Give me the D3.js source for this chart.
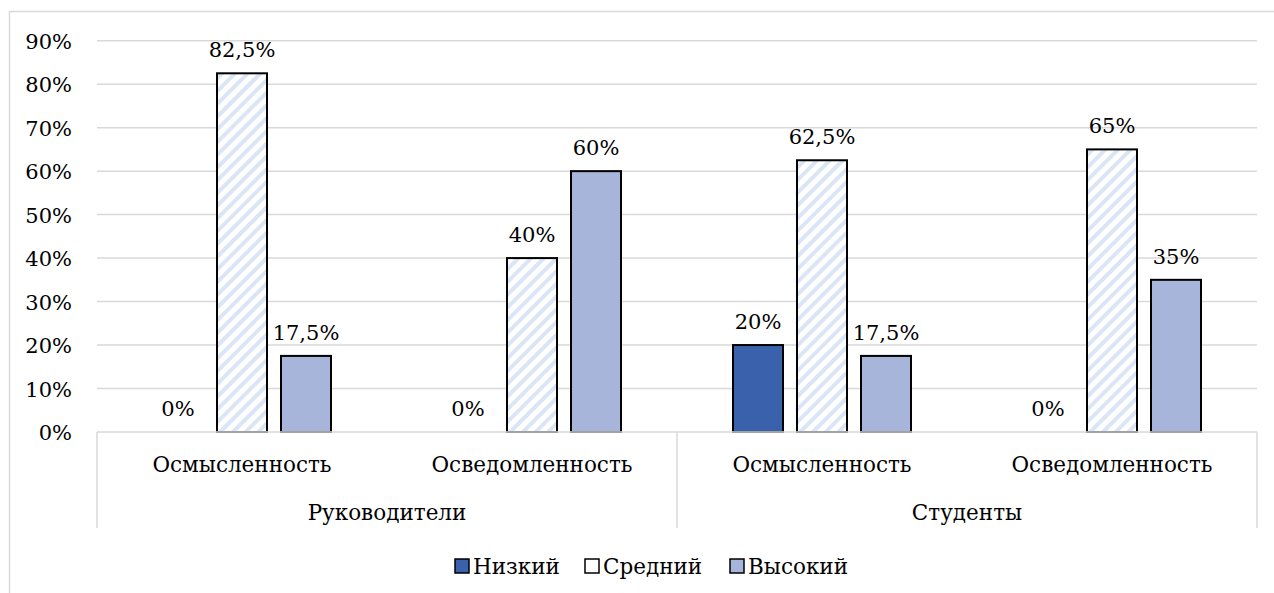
<!DOCTYPE html>
<html><head><meta charset="utf-8">
<script src="https://cdn.jsdelivr.net/npm/d3@7"></script>
</head><body style="margin:0;background:#fff">
<script>
const groups = ["Руководители", "Студенты"];
const subcats = ["Осмысленность", "Осведомленность"];
const series = ["Низкий", "Средний", "Высокий"];
const low = [0, 0, 20, 0];
const mid = [82.5, 40, 62.5, 65];
const high = [17.5, 60, 17.5, 35];
const labels = [["0%","82,5%","17,5%"],["0%","40%","60%"],["20%","62,5%","17,5%"],["0%","65%","35%"]];
const yTicks = [0,10,20,30,40,50,60,70,80,90];

const svg = d3.select("body").append("svg").attr("width",1274).attr("height",593)
  .style("display","block");
const FN = 21, FW = 21.5;
const FF = "DejaVu Serif";
const m = {l:97, r:1257, t:40.7, b:432};
const defs = svg.append("defs");
const pat = defs.append("pattern").attr("id","hatch").attr("patternUnits","userSpaceOnUse")
  .attr("width",9).attr("height",9).attr("patternTransform","rotate(45)");
pat.append("rect").attr("width",9).attr("height",9).attr("fill","#fff");
pat.append("rect").attr("x",0).attr("width",4).attr("height",9).attr("fill","#dae6f5");
const fills = ["#3a62ac","url(#hatch)","#a8b5da"];
const legendFills = ["#3a62ac","#fff","#a8b5da"];

svg.append("rect").attr("x",9.5).attr("y",11.5).attr("width",1280).attr("height",600)
  .attr("fill","none").attr("stroke","#d9d9d9").attr("stroke-width",1.5);

const keys = d3.range(4);
const x = d3.scaleBand().domain(keys).range([m.l,m.r]).padding(0);
const xs = d3.scalePoint().domain(d3.range(3)).range([-64,64]);
const BW = 50;
const y = d3.scaleLinear().domain([0,90]).range([m.b,m.t]);

svg.append("g").selectAll("line").data(yTicks.slice(1)).join("line")
  .attr("x1",m.l).attr("x2",m.r).attr("y1",d=>y(d)).attr("y2",d=>y(d))
  .attr("stroke","#d9d9d9").attr("stroke-width",1.5);

const txt = (fs)=>(sel)=>sel.attr("font-family",FF).attr("font-size",fs).attr("fill","#000");

const yAxis = d3.axisLeft(y).tickValues(yTicks).tickFormat(d=>d+"%").tickSize(0).tickPadding(0);
const ga = svg.append("g").attr("transform","translate(72,0)").call(yAxis);
ga.attr("font-family",FF).attr("font-size",FN);
ga.select(".domain").remove();
ga.selectAll("text").call(txt(FN)).attr("dy","0.36em");

const vals = [low, mid, high];
keys.forEach(k=>{
  const g = svg.append("g").attr("transform",`translate(${x(k)+x.bandwidth()/2},0)`);
  series.forEach((s,i)=>{
    const v = vals[i][k];
    if (v>0) {
      g.append("rect").attr("x",xs(i)-BW/2).attr("width",BW)
        .attr("y",y(v)).attr("height",y(0)-y(v))
        .attr("fill",fills[i]).attr("stroke","#000").attr("stroke-width",2);
    }
    g.append("text").attr("x",xs(i)).attr("y",y(v)-16)
      .attr("text-anchor","middle").call(txt(FN)).text(labels[k][i]);
  });
});

svg.append("line").attr("x1",m.l).attr("x2",m.r).attr("y1",m.b).attr("y2",m.b)
  .attr("stroke","#d9d9d9").attr("stroke-width",1.5);
[m.l, x(2), m.r].forEach(xx=>{
  svg.append("line").attr("x1",xx).attr("x2",xx).attr("y1",m.b).attr("y2",528)
    .attr("stroke","#d9d9d9").attr("stroke-width",1.5);
});
keys.forEach(k=>{
  svg.append("text").attr("x",x(k)+x.bandwidth()/2).attr("y",472)
    .attr("text-anchor","middle").call(txt(FW)).text(subcats[k%2]);
});
groups.forEach((gname,i)=>{
  svg.append("text").attr("x",(x(i*2)+x(i*2+1)+x.bandwidth())/2).attr("y",520)
    .attr("text-anchor","middle").call(txt(FW)).text(gname);
});

const legX = [455, 585, 730];
series.forEach((s,i)=>{
  svg.append("rect").attr("x",legX[i]).attr("y",559).attr("width",14).attr("height",14)
    .attr("fill",legendFills[i]).attr("stroke","#000").attr("stroke-width",1.5);
  svg.append("text").attr("x",legX[i]+18).attr("y",574).call(txt(FW)).text(s);
});
</script></body></html>
